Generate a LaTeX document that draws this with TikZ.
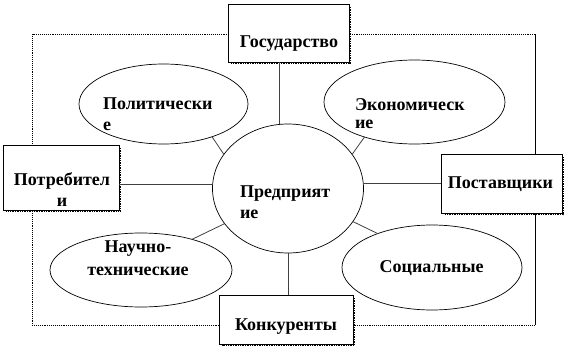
\documentclass[tikz,border=0pt]{standalone}
\usepackage{fontspec}
\setmainfont{Liberation Serif}
\usetikzlibrary{shapes.geometric}
\begin{document}
\begin{tikzpicture}[x=1pt,y=-1pt,
  every node/.style={inner sep=0pt,outer sep=0pt},
  txt/.style={font=\fontsize{18}{21}\selectfont\bfseries},
  sbox/.style={draw,fill=white,line width=0.8pt,rectangle},
  oval/.style={draw,fill=white,line width=0.7pt,ellipse},
  conn/.style={line width=0.8pt,draw=black!75},
  shade/.style={densely dotted,line width=1.4pt},
  framedot/.style={densely dotted,line width=0.9pt},
  framesolid/.style={line width=0.9pt}]
\useasboundingbox (0,0) rectangle (565,348);
% frame
\coordinate (fa) at (32,34);
\coordinate (fb) at (535,34);
\coordinate (fc) at (535,325);
\coordinate (fd) at (32,325);
\draw[framedot] (fb) -- (fa) -- (fd) -- (fc);
\draw[framesolid] (fb) -- (fc);
% central circle
\node[oval,minimum width=151pt,minimum height=129pt] (ent) at (288,188.5) {};
% ellipses
\node[oval,minimum width=169pt,minimum height=80pt] (pol) at (163.5,104) {};
\node[oval,minimum width=181pt,minimum height=84pt] (eco) at (414.5,102) {};
\node[oval,minimum width=182pt,minimum height=74pt] (nau) at (141,270) {};
\node[oval,minimum width=180pt,minimum height=85pt] (soc) at (432,267.5) {};
% boxes
\node[sbox,minimum width=121pt,minimum height=58pt] (gos) at (288.5,33) {};
\node[sbox,minimum width=121pt,minimum height=59pt] (post) at (501.5,183.5) {};
\node[sbox,minimum width=116pt,minimum height=65pt] (potr) at (61,177.5) {};
\node[sbox,minimum width=134pt,minimum height=49pt] (kon) at (286,319.5) {};
% shadows
\foreach \b in {gos,post,potr,kon}{
  \draw[shade] ([shift={(1.6pt,-3pt)}]\b.north east) -- ([shift={(1.6pt,-1.6pt)}]\b.south east) -- ([shift={(3pt,-1.6pt)}]\b.south west);
}
% connectors
\draw[conn] (ent.98.9) -- (ent.98.9 |- gos.south);
\draw[conn] (post.west) -- (post.west -| ent.east);
\draw[conn] ([yshift=-6.5pt]potr.east) -- ([yshift=-6.5pt]potr.east -| ent.west);
\draw[conn] (ent.south) -- (ent.south |- kon.north);
\draw[conn] (pol.-34.5) -- (ent.152);
\draw[conn] (eco.215) -- (ent.28.3);
\draw[conn] (nau.31.2) -- (ent.209.3);
\draw[conn] (soc.148.8) -- (ent.-27.6);
% texts
\node[txt,anchor=base] (gost) at (289,47) {Государство};
\node[txt,anchor=base] (postt) at (500.5,188) {Поставщики};
\node[txt,anchor=base] (kont) at (286,330) {Конкуренты};
\node[txt,anchor=base] (potrt) at (62,185) {\begin{tabular}[t]{@{}c@{}}Потребител\\и\end{tabular}};
\node[txt,anchor=base west] (polt) at (103,109) {\begin{tabular}[t]{@{}l@{}}Политически\\е\end{tabular}};
\node[txt,anchor=base west] (ecot) at (355,110) {\begin{tabular}[t]{@{}l@{}}Экономическ\\[-3pt]ие\end{tabular}};
\node[txt,anchor=base west] (entt) at (240,197) {\begin{tabular}[t]{@{}l@{}}Предприят\\ие\end{tabular}};
\node[txt,anchor=base] (naut) at (138,252) {\begin{tabular}[t]{@{}c@{}}Научно-\\[2pt]технические\end{tabular}};
\node[txt,anchor=base] (soct) at (431.7,272.7) {Социальные};
\end{tikzpicture}
\end{document}
